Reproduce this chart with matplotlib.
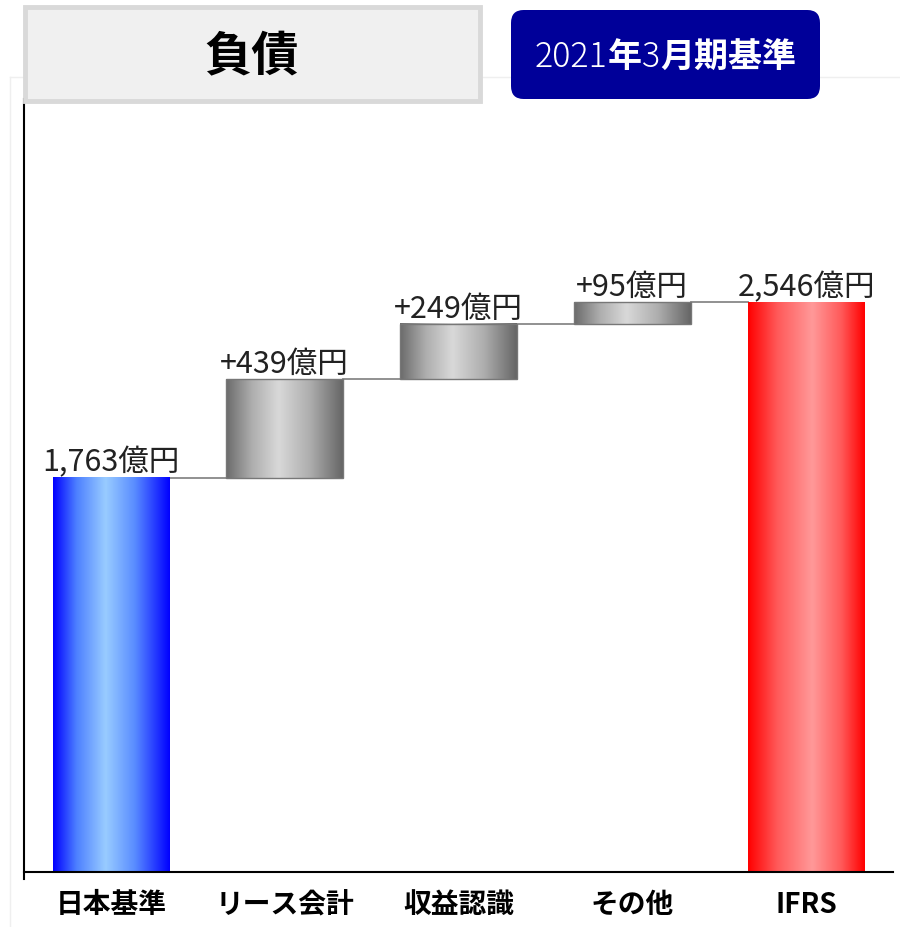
import matplotlib
matplotlib.use("Agg")
import matplotlib.pyplot as plt
import numpy as np
from matplotlib.colors import LinearSegmentedColormap
from matplotlib.patches import Rectangle, FancyBboxPatch

plt.rcParams['font.family'] = ['Noto Sans CJK JP', 'DejaVu Sans']

categories = ['日本基準', 'リース会計', '収益認識', 'その他', 'IFRS']
values = [1763, 439, 249, 95, 2546]
kinds = ['total', 'delta', 'delta', 'delta', 'total']
labels = ['1,763億円', '+439億円', '+249億円', '+95億円', '2,546億円']
title = '負債'
badge_parts = [('2021', 'light'), ('年', 'bold'), ('3', 'light'), ('月期基準', 'bold')]

W, H = 900, 928
fig = plt.figure(figsize=(W / 100, H / 100), dpi=100)

def fx(x):
    return x / W

def fy(y):
    return 1 - y / H

# faint outer frame
fig.add_artist(plt.Line2D([fx(10), fx(900)], [fy(78), fy(78)], color='#efefef', lw=1))
fig.add_artist(plt.Line2D([fx(10), fx(10)], [fy(78), fy(928)], color='#efefef', lw=1))

ax = fig.add_axes([fx(24), fy(873), fx(893 - 24), fy(100) - fy(873)])
ax.set_facecolor('none')

width = 0.67
cmaps = {
    'blue': LinearSegmentedColormap.from_list('b', [(0, (0, 0, 1)), (0.2, (0.3, 0.5, 1)),
                                                   (0.45, (0.6, 0.8, 1)), (0.7, (0.35, 0.55, 1)), (1, (0, 0, 1))]),
    'gray': LinearSegmentedColormap.from_list('g', [(0, (0.42, 0.42, 0.42)), (0.22, (0.68, 0.68, 0.68)),
                                                   (0.45, (0.85, 0.85, 0.85)), (0.72, (0.68, 0.68, 0.68)),
                                                   (1, (0.40, 0.40, 0.40))]),
    'red': LinearSegmentedColormap.from_list('r', [(0, (1, 0, 0)), (0.25, (1, 0.35, 0.35)),
                                                  (0.55, (1, 0.6, 0.6)), (0.8, (1, 0.35, 0.35)), (1, (1, 0, 0))]),
}
grad = np.linspace(0, 1, 256).reshape(1, -1)

running = 0
tops = []
for i, (v, k) in enumerate(zip(values, kinds)):
    if k == 'total':
        bottom, top = 0, v
        running = v
        cm = cmaps['blue'] if i == 0 else cmaps['red']
        ec = 'none'
    else:
        bottom, top = running, running + v
        running = top
        cm = cmaps['gray']
        ec = '#777777'
    x0 = i - width / 2
    ax.imshow(grad, cmap=cm, extent=[x0, x0 + width, bottom, top], aspect='auto', zorder=2, interpolation='bicubic')
    if ec != 'none':
        ax.add_patch(Rectangle((x0, bottom), width, top - bottom, fill=False, ec=ec, lw=1, zorder=3))
    tops.append(top)
    ax.annotate(labels[i], (i, top), xytext=(0, 0), textcoords='offset points',
                ha='center', va='bottom', fontsize=22, color='#222222', zorder=4)

# connectors
for i in range(len(values) - 1):
    lvl = tops[i]
    ax.plot([i + width / 2, i + 1 - width / 2], [lvl, lvl], color='#888888', lw=1.3, zorder=1)

ax.set_xlim(-0.5, 4.5)
ax.set_ylim(0, 3455)
ax.set_xticks(range(len(categories)))
ax.set_xticklabels(categories, fontsize=20, fontweight='bold')
ax.set_yticks([])
ax.tick_params(axis='x', length=0, pad=13)
for s in ['top', 'right']:
    ax.spines[s].set_visible(False)
ax.spines['left'].set_linewidth(1.5)
ax.spines['bottom'].set_linewidth(1.5)
ax.spines['left'].set_bounds(-30, 3455)

# title box
fig.add_artist(Rectangle((fx(25), fy(102)), fx(480 - 25), fy(8) - fy(102), transform=fig.transFigure,
                         fc='#f0f0f0', ec='#d9d9d9', lw=3.5, zorder=5))
fig.text(fx(252), fy(57), title, ha='center', va='center', fontsize=34, fontweight='bold', color='black', zorder=6)

# badge
fig.add_artist(FancyBboxPatch((fx(511), fy(100)), fx(820 - 511), fy(11) - fy(100),
                              boxstyle='round,pad=0,rounding_size=0.014', transform=fig.transFigure,
                              fc='#000099', ec='none', zorder=5))
fig.canvas.draw()
r = fig.canvas.get_renderer()
texts = []
for s, w in badge_parts:
    t = fig.text(0, fy(57), s, ha='left', va='center', fontsize=24.5, fontweight=w, color='white', zorder=6)
    texts.append(t)
widths = [t.get_window_extent(r).width for t in texts]
total = sum(widths)
x = (511 + 820) / 2 - total / 2
for t, wd in zip(texts, widths):
    t.set_x(x / W)
    x += wd

fig.savefig('out.png', dpi=100)
